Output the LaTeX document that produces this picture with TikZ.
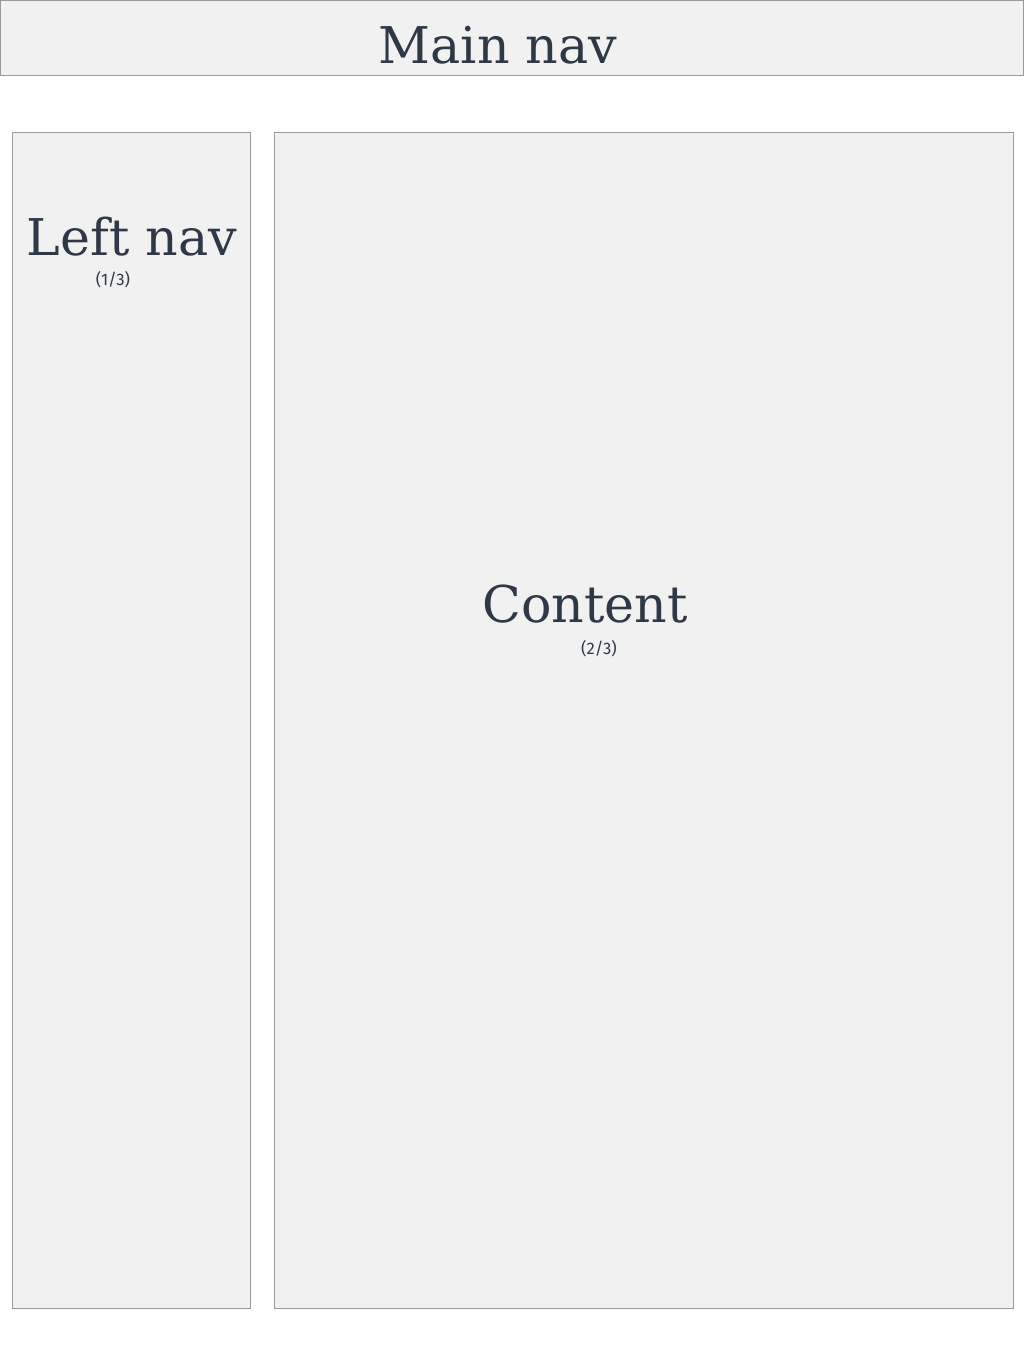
\documentclass[tikz,border=0pt]{standalone}
\usepackage{fontspec}
\setmainfont{DejaVu Serif}
\newfontfamily\notefont{Fira Sans}
\usetikzlibrary{positioning}
\definecolor{panelfill}{HTML}{F1F1F1}
\definecolor{panelline}{HTML}{999999}
\definecolor{inkslate}{HTML}{2E3846}
\begin{document}
\begin{tikzpicture}[x=0.75pt,y=-0.75pt]

    \tikzstyle{panel}=[draw=panelline,fill=panelfill,line width=0.75pt,outer sep=0pt,inner sep=0pt,anchor=north west]
    \tikzstyle{title}=[text=inkslate,font=\fontsize{38}{46}\selectfont,anchor=base,inner sep=0pt]
    \tikzstyle{note}=[text=inkslate,font=\notefont\fontsize{12.5}{15}\selectfont,anchor=base,inner sep=0pt]

    \useasboundingbox (0,0) rectangle (1024,1366);

    \node (mainnav) [panel,minimum width=767.25pt,minimum height=56.25pt] at (0.5,0.5) {};
    \node (leftnav) [panel,minimum width=178.5pt,minimum height=882pt] at (12.5,132.5) {};
    \node (content) [panel,minimum width=554.25pt,minimum height=882pt] at (274.5,132.5) {};

    \node (mainnav_label) [title] at (498,64) {Main nav};
    \node (leftnav_label) [title] at (132,255) {Left nav};
    \node (leftnav_note) [note] at (113,285) {(1/3)};
    \node (content_label) [title] at (585,622) {Content};
    \node (content_note) [note] at (599,654) {(2/3)};

\end{tikzpicture}
\end{document}
